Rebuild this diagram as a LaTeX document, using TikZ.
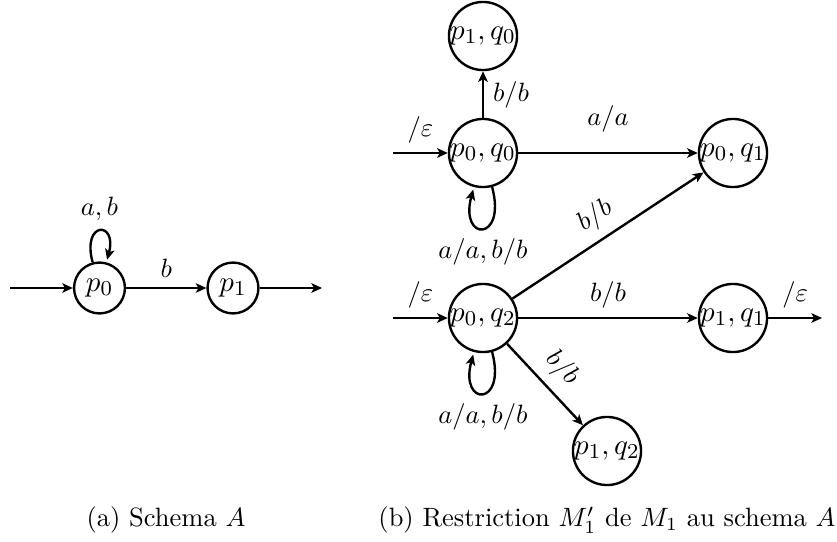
\documentclass[tikz,border=0pt]{standalone}
\usetikzlibrary{arrows.meta}
\begin{document}
\begin{tikzpicture}[x=0.3774pt,y=0.3774pt,line width=0.9pt,
  >={Stealth[length=4pt,width=3.6pt,inset=1pt]},
  stateA/.style={circle,draw,inner sep=0pt,minimum size=19.2pt,font=\fontsize{10.95}{13.6}\selectfont},
  stateB/.style={circle,draw,inner sep=0pt,minimum size=25.7pt,font=\fontsize{10.95}{13.6}\selectfont},
  every edge/.style={draw,->}]
\useasboundingbox (0,0) rectangle (837,541);
% (a) Schema A
\node[stateA] (Lp0) at (99.5,253) {$p_0$};
\node[stateA] (Lp1) at (233,253) {$p_1$};
\coordinate (Li) at (10,253);
\coordinate (Lf) at (322,253);
\draw[->] (Li) -- (Lp0);
\draw[->] (Lp1) -- (Lf);
\path (Lp0) edge[loop above] node[above] {$a,b$} ()
      (Lp0) edge node[above] {$b$} (Lp1);
% (b) Restriction
\node[stateB] (pq10) at (483,505) {$p_1,q_0$};
\node[stateB] (pq00) at (483,388) {$p_0,q_0$};
\node[stateB] (pq01) at (733,388) {$p_0,q_1$};
\node[stateB] (pq02) at (483,223) {$p_0,q_2$};
\node[stateB] (pq11) at (733,223) {$p_1,q_1$};
\node[stateB] (pq12) at (607,90) {$p_1,q_2$};
\coordinate (Ri1) at (393,388);
\coordinate (Ri2) at (393,223);
\coordinate (Rf) at (822,223);
\draw[->] (Ri1) -- node[above] {$/\varepsilon$} (pq00);
\draw[->] (Ri2) -- node[above] {$/\varepsilon$} (pq02);
\draw[->] (pq11) -- node[above] {$/\varepsilon$} (Rf);
\path (pq00) edge node[right] {$b/b$} (pq10)
      (pq00) edge node[above=4pt] {$a/a$} (pq01)
      (pq00) edge[loop below] node[below] {$a/a,b/b$} ()
      (pq02) edge node[above,sloped] {$b/b$} (pq01)
      (pq02) edge node[above] {$b/b$} (pq11)
      (pq02) edge node[above,sloped] {$b/b$} (pq12)
      (pq02) edge[loop below] node[below] {$a/a,b/b$} ();
% captions
\node (capa) at (166,21) {(a) Schema $A$};
\node (capb) at (607,21) {(b) Restriction $M_1'$ de $M_1$ au schema $A$};
\end{tikzpicture}
\end{document}
